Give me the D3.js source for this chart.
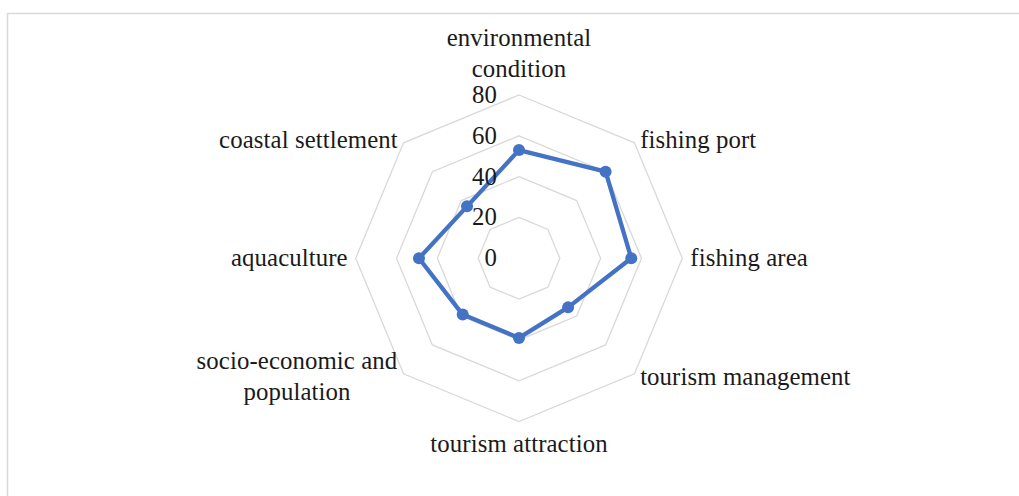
<!DOCTYPE html>
<html>
<head>
<meta charset="utf-8">
<script src="https://cdn.jsdelivr.net/npm/d3@7"></script>
<style>
  html, body { margin: 0; padding: 0; background: #fff; }
  svg { display: block; }
  text { font-family: "Liberation Serif", "Times New Roman", serif; font-size: 24.8px; letter-spacing: 0.1px; fill: #1a1a1a; }
</style>
</head>
<body>
<svg id="chart" width="1019" height="496"></svg>
<script>
const categories = [
  ["environmental", "condition"],
  ["fishing port"],
  ["fishing area"],
  ["tourism management"],
  ["tourism attraction"],
  ["socio-economic and", "population"],
  ["aquaculture"],
  ["coastal settlement"]
];
const values = [53, 60, 55, 34, 39, 39, 49, 36];
const tickValues = [0, 20, 40, 60, 80];
const ringValues = [20, 40, 60, 80];

const svg = d3.select("#chart");
const cx = 519, cy = 258.3;

// chart area border (top and left visible)
svg.append("rect")
  .attr("x", 7.5).attr("y", 13.5)
  .attr("width", 1200).attr("height", 800)
  .attr("fill", "none").attr("stroke", "#d9d9d9").attr("stroke-width", 1.5);

const rScale = d3.scaleLinear().domain([0, 80]).range([0, 163.3]);
const angle = d3.scalePoint().domain(d3.range(categories.length)).range([0, 2 * Math.PI * (categories.length - 1) / categories.length]);

function pt(i, v) {
  const a = angle(i), r = rScale(v);
  return [cx + r * Math.sin(a), cy - r * Math.cos(a)];
}

const g = svg.append("g");

// rings
const ringLine = d3.line();
ringValues.forEach(v => {
  const pts = d3.range(categories.length).map(i => pt(i, v));
  g.append("path")
    .attr("d", ringLine(pts) + "Z")
    .attr("fill", "none")
    .attr("stroke", "#d9d9d9")
    .attr("stroke-width", 1.3);
});

// series
const pts = values.map((v, i) => pt(i, v));
g.append("path")
  .attr("d", d3.line()(pts) + "Z")
  .attr("fill", "none")
  .attr("stroke", "#4472C4")
  .attr("stroke-width", 4.3)
  .attr("stroke-linejoin", "round");

g.selectAll("circle.pt").data(values).enter().append("circle")
  .attr("class", "pt")
  .attr("cx", (d, i) => pt(i, d)[0])
  .attr("cy", (d, i) => pt(i, d)[1])
  .attr("r", 6)
  .attr("fill", "#4472C4");

// tick labels
g.selectAll("text.tick").data(tickValues).enter().append("text")
  .attr("class", "tick")
  .attr("x", cx - 22)
  .attr("y", d => cy - rScale(d) + 8)
  .attr("text-anchor", "end")
  .text(d => d);

// category labels
const lh = 31;
categories.forEach((lines, i) => {
  const a = angle(i);
  const s = Math.sin(a), c = Math.cos(a);
  const [px, py] = pt(i, 80 + rScale.invert(8));
  let anchor = Math.abs(s) < 0.01 ? "middle" : (s > 0 ? "start" : "end");
  const n = lines.length;
  let firstBase;
  if (c > 0.99) firstBase = py - 10 - (n - 1) * lh;
  else if (c < -0.99) firstBase = py + 22;
  else firstBase = py + 8 + 4 * c - (n - 1) * lh / 2;
  const t = g.append("text")
    .attr("x", px).attr("y", firstBase)
    .attr("text-anchor", "middle");
  lines.forEach((ln, k) => {
    t.append("tspan").attr("x", px).attr("y", firstBase + k * lh).text(ln);
  });
  if (anchor !== "middle") {
    const bb = t.node().getBBox();
    const shift = anchor === "start" ? (px - bb.x) : (px - (bb.x + bb.width));
    t.selectAll("tspan").attr("x", px + shift);
  }
});
</script>
</body>
</html>
